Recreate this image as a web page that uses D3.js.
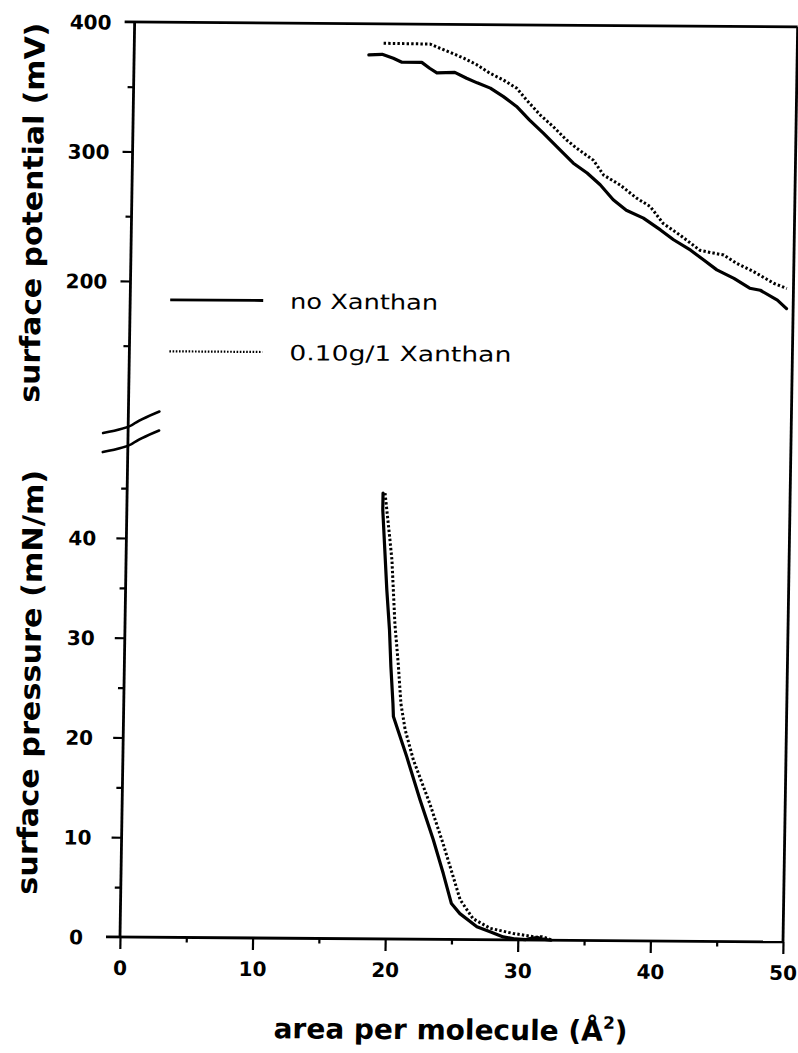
<!DOCTYPE html>
<html>
<head>
<meta charset="utf-8">
<script src="https://cdn.jsdelivr.net/npm/d3@7"></script>
<style>
  html, body { margin: 0; padding: 0; background: #fff; }
  svg { display: block; }
  text { font-family: "DejaVu Sans", sans-serif; fill: #000; }
</style>
</head>
<body>
<svg id="chart" width="798" height="1053"></svg>
<script>
// ---- Surface potential isotherms (mV) ----
const potAreaNone = [17.7, 18.7, 19.55, 20.2, 21.7, 22.3, 22.85, 24.2, 25.1, 25.9, 26.9, 27.9, 28.9, 29.9,
  30.95, 32.0, 33.25, 34.3, 35.3, 36.3, 37.3, 38.6, 39.9, 40.9, 42.2, 43.2, 44.2, 45.5, 46.7, 47.5, 48.8, 49.5];
const potNone = [376, 376.5, 373.5, 370.5, 370.5, 366, 362.5, 363, 358.5, 355, 351, 344.5, 337, 326.5,
  316.5, 306, 293.5, 286, 277, 265.5, 257.5, 251.5, 242.5, 235, 227, 219.5, 212, 205.5, 198, 196.5, 189, 182.5];

const potAreaXan = [18.8, 22.3, 23.05, 23.8, 24.85, 25.85, 26.85, 27.85, 28.9, 29.65, 30.7, 31.7, 32.7, 33.5,
  34.75, 35.55, 36.8, 38.05, 39.1, 40.1, 41.4, 42.9, 43.9, 44.7, 45.7, 46.95, 48.5, 49.5];
const potXan = [385, 384.7, 381.5, 378.5, 374, 369, 362.5, 357.5, 351, 342, 330.5, 321.5, 311.5, 305,
  296, 284.5, 277, 267, 260.5, 247.5, 238.5, 227, 225, 223.5, 217, 211, 202, 198];

// ---- Surface pressure isotherms (mN/m) ----
const presAreaNone = [19.3, 19.3, 19.5, 19.7, 19.95, 20.1, 20.3, 20.35, 21.4, 22.45, 23.5, 24.3, 24.95, 25.6,
  26.9, 27.9, 28.9, 29.8, 30.6, 31.1, 31.5, 31.9, 32.5];
const presNone = [44.7, 43, 39, 35, 31, 27.3, 23.6, 22.3, 18.3, 14, 10, 6.6, 3.6, 2.6,
  1.3, 0.8, 0.3, 0.1, 0.05, 0.2, 0.25, 0.1, 0];

const presAreaXan = [19.45, 19.85, 20.05, 20.35, 20.65, 20.9, 21.25, 21.9, 23.2, 24.25, 25.05, 25.6, 26.6,
  27.9, 29.65, 30.9, 31.4, 31.8, 32.2, 32.6];
const presXan = [44.7, 40.3, 38, 31.6, 27.6, 23.6, 21, 18, 13.6, 9.6, 6.3, 4, 2.1,
  1.15, 0.65, 0.4, 0.3, 0.35, 0.2, 0];

// ---- Axis ticks and labels ----
const areaTicks = [0, 5, 10, 15, 20, 25, 30, 35, 40, 45, 50];
const potTicks = [150, 200, 250, 300, 350, 400];
const presTicks = [0, 5, 10, 15, 20, 25, 30, 35, 40, 45];
const seriesNames = ["no Xanthan", "0.10g/1 Xanthan"];

// ---- Scales ----
const x = d3.scaleLinear().domain([0, 50]).range([120, 783]);
const yPot = d3.scaleLinear().domain([200, 400]).range([281, 22]);
const yPres = d3.scaleLinear().domain([0, 40]).range([937, 538]);

const svg = d3.select("#chart");
// the plotter sheet sits slightly askew
const g = svg.append("g").attr("transform", "matrix(1,0.0075,-0.016,1,15,-0.9)");

const ink = "#000";
const frameL = x(0), frameR = x(50), frameT = yPot(400), frameB = yPres(0);

// frame: left axis, top border, right border, bottom axis
g.append("line").attr("x1", frameL).attr("x2", frameL).attr("y1", frameT).attr("y2", frameB)
  .attr("stroke", ink).attr("stroke-width", 2.8);
g.append("line").attr("x1", frameL - 10).attr("x2", frameR).attr("y1", frameT).attr("y2", frameT)
  .attr("stroke", ink).attr("stroke-width", 2.8);
g.append("line").attr("x1", frameR).attr("x2", frameR).attr("y1", frameT).attr("y2", frameB)
  .attr("stroke", ink).attr("stroke-width", 2.8);
g.append("line").attr("x1", frameL - 14).attr("x2", frameR).attr("y1", frameB).attr("y2", frameB)
  .attr("stroke", ink).attr("stroke-width", 2.8);

// axis break strokes
const breakY = yPres(50.5);
[0, 19].forEach(off => {
  const y0 = breakY + off;
  g.append("path")
    .attr("d", `M${frameL - 25},${y0} Q${frameL},${y0 - 5} ${frameL + 5},${y0 - 9} T${frameL + 31},${y0 - 22}`)
    .attr("fill", "none").attr("stroke", ink).attr("stroke-width", 2.6).attr("stroke-linecap", "round");
});

function styleAxis(sel) {
  sel.select(".domain").remove();
  sel.selectAll(".tick line").attr("stroke", ink).attr("stroke-width", 2.2);
  sel.selectAll(".tick text")
    .style("font-family", "'DejaVu Sans', sans-serif")
    .style("font-size", "20px").style("font-weight", "bold").attr("fill", ink);
}

// surface potential axis
const potAxis = g.append("g").attr("transform", `translate(${frameL},0)`)
  .call(d3.axisLeft(yPot).tickValues(potTicks).tickSize(10)
    .tickFormat(d => d % 100 === 0 ? d : ""));
styleAxis(potAxis);
potAxis.selectAll(".tick").filter(d => d === 400).select("line").remove();
potAxis.selectAll(".tick").filter(d => d % 100 !== 0).select("line").attr("x2", -6);
potAxis.selectAll(".tick text").attr("text-anchor", "middle").attr("x", -44).attr("dy", "0.36em");

// surface pressure axis
const presAxis = g.append("g").attr("transform", `translate(${frameL},0)`)
  .call(d3.axisLeft(yPres).tickValues(presTicks).tickSize(10)
    .tickFormat(d => d % 10 === 0 ? d : ""));
styleAxis(presAxis);
presAxis.selectAll(".tick").filter(d => d === 0).select("line").remove();
presAxis.selectAll(".tick").filter(d => d % 10 !== 0).select("line").attr("x2", -6);
presAxis.selectAll(".tick text").attr("text-anchor", "middle").attr("x", -44).attr("dy", "0.36em");

// area axis
const areaAxis = g.append("g").attr("transform", `translate(0,${frameB})`)
  .call(d3.axisBottom(x).tickValues(areaTicks).tickSize(12)
    .tickFormat(d => d % 10 === 0 ? d : ""));
styleAxis(areaAxis);
areaAxis.selectAll(".tick").filter(d => d % 10 !== 0).select("line").attr("y2", 5);
areaAxis.selectAll(".tick text").attr("y", 38).attr("dy", 0);

// curves
const linePot = d3.line().x(d => x(d[0])).y(d => yPot(d[1]));
const linePres = d3.line().x(d => x(d[0])).y(d => yPres(d[1]));

function drawCurve(gen, xs, ys, dotted) {
  const p = g.append("path").datum(d3.zip(xs, ys))
    .attr("d", gen).attr("fill", "none").attr("stroke", ink)
    .attr("stroke-linejoin", "round");
  if (dotted) p.attr("stroke-width", 3).attr("stroke-dasharray", "2.4 2.2");
  else p.attr("stroke-width", 3.2).attr("stroke-linecap", "round");
}
drawCurve(linePot, potAreaXan, potXan, true);
drawCurve(linePot, potAreaNone, potNone, false);
drawCurve(linePres, presAreaXan, presXan, true);
drawCurve(linePres, presAreaNone, presNone, false);

// legend
const legend = g.append("g");
seriesNames.forEach((name, i) => {
  const ly = 299.5 + i * 51.5;
  const l = legend.append("line").attr("x1", 160).attr("x2", 253).attr("y1", ly).attr("y2", ly)
    .attr("stroke", ink);
  if (i === 0) l.attr("stroke-width", 2.8);
  else l.attr("stroke-width", 2.2).attr("stroke-dasharray", "1.6 1.6");
  legend.append("text").attr("x", 280).attr("y", ly + 8)
    .attr("textLength", i === 0 ? 148 : 222).attr("lengthAdjust", "spacingAndGlyphs")
    .style("font-size", "21px").text(name);
});

// axis titles
g.append("text").attr("transform", "translate(30.5,213.5) rotate(-90)")
  .attr("text-anchor", "middle").attr("textLength", 380).attr("lengthAdjust", "spacingAndGlyphs")
  .style("font-size", "28px").style("font-weight", "bold")
  .text("surface potential (mV)");
g.append("text").attr("transform", "translate(36,683) rotate(-90)")
  .attr("text-anchor", "middle").attr("textLength", 425).attr("lengthAdjust", "spacingAndGlyphs")
  .style("font-size", "28px").style("font-weight", "bold")
  .text("surface pressure (mN/m)");
const xt = g.append("text").attr("x", 452).attr("y", 1037)
  .attr("text-anchor", "middle")
  .style("font-size", "28px").style("font-weight", "bold");
xt.append("tspan").text("area per molecule (Å");
xt.append("tspan").attr("dy", -12).style("font-size", "17px").text("2");
xt.append("tspan").attr("dy", 12).text(")");
</script>
</body>
</html>
